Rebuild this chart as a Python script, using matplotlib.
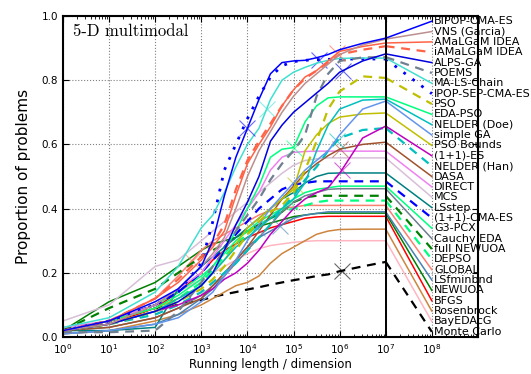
import numpy as np
import matplotlib
matplotlib.use("Agg")
import matplotlib.pyplot as plt
from matplotlib.ticker import LogLocator, NullFormatter

# log10 of running length / dimension at which every ECDF is sampled
log_evals = [0, 1, 2, 2.5, 3, 3.25, 3.5, 3.75, 4, 4.25, 4.5, 4.75, 5, 5.25, 5.5, 5.75, 6, 6.5, 7]

bipop_cma_es = [0.02, 0.05, 0.11, 0.15, 0.22, 0.30, 0.44, 0.56, 0.65, 0.74, 0.82, 0.855, 0.86, 0.862, 0.87, 0.88, 0.895, 0.915, 0.931]
vns_garcia = [0.02, 0.04, 0.10, 0.15, 0.22, 0.26, 0.31, 0.40, 0.50, 0.58, 0.64, 0.70, 0.75, 0.79, 0.82, 0.85, 0.88, 0.91, 0.928]
amalgam = [0.02, 0.05, 0.12, 0.17, 0.24, 0.28, 0.33, 0.44, 0.54, 0.60, 0.655, 0.72, 0.77, 0.81, 0.83, 0.86, 0.89, 0.905, 0.916]
iamalgam = [0.02, 0.05, 0.12, 0.18, 0.25, 0.29, 0.35, 0.46, 0.55, 0.61, 0.665, 0.72, 0.77, 0.805, 0.83, 0.855, 0.88, 0.895, 0.906]
alps_ga = [0.02, 0.04, 0.08, 0.11, 0.16, 0.20, 0.27, 0.35, 0.42, 0.50, 0.61, 0.66, 0.70, 0.73, 0.76, 0.79, 0.825, 0.86, 0.882]
poems = [0.015, 0.015, 0.02, 0.08, 0.17, 0.22, 0.27, 0.33, 0.38, 0.43, 0.49, 0.54, 0.58, 0.63, 0.75, 0.82, 0.86, 0.871, 0.872]
ma_ls_chain = [0.03, 0.06, 0.14, 0.22, 0.34, 0.38, 0.45, 0.53, 0.60, 0.65, 0.74, 0.80, 0.825, 0.84, 0.853, 0.862, 0.868, 0.869, 0.869]
ipop_sep = [0.02, 0.05, 0.10, 0.14, 0.23, 0.36, 0.52, 0.60, 0.68, 0.75, 0.81, 0.845, 0.858, 0.862, 0.864, 0.865, 0.866, 0.866, 0.866]
pso = [0.02, 0.04, 0.08, 0.11, 0.15, 0.18, 0.22, 0.27, 0.32, 0.36, 0.39, 0.41, 0.45, 0.52, 0.61, 0.71, 0.765, 0.812, 0.807]
eda_pso = [0.02, 0.05, 0.09, 0.13, 0.18, 0.22, 0.27, 0.33, 0.40, 0.47, 0.56, 0.585, 0.59, 0.67, 0.72, 0.745, 0.748, 0.748, 0.748]
nelder_doe = [0.02, 0.04, 0.08, 0.12, 0.16, 0.20, 0.24, 0.28, 0.31, 0.34, 0.37, 0.40, 0.43, 0.48, 0.58, 0.66, 0.71, 0.738, 0.741]
simple_ga = [0.01, 0.02, 0.04, 0.06, 0.11, 0.14, 0.19, 0.24, 0.30, 0.35, 0.40, 0.44, 0.48, 0.52, 0.55, 0.58, 0.63, 0.71, 0.735]
pso_bounds = [0.02, 0.05, 0.09, 0.12, 0.16, 0.20, 0.24, 0.29, 0.34, 0.37, 0.40, 0.43, 0.46, 0.58, 0.63, 0.665, 0.685, 0.695, 0.698]
one_one_es = [0.02, 0.04, 0.08, 0.10, 0.13, 0.15, 0.18, 0.20, 0.23, 0.27, 0.32, 0.36, 0.40, 0.43, 0.45, 0.465, 0.51, 0.62, 0.657]
nelder_han = [0.02, 0.04, 0.07, 0.10, 0.14, 0.17, 0.20, 0.23, 0.27, 0.31, 0.35, 0.40, 0.44, 0.49, 0.53, 0.58, 0.62, 0.645, 0.651]
dasa = [0.02, 0.03, 0.06, 0.09, 0.12, 0.16, 0.20, 0.24, 0.28, 0.33, 0.38, 0.43, 0.47, 0.51, 0.54, 0.565, 0.585, 0.60, 0.607]
direct = [0.03, 0.05, 0.10, 0.15, 0.20, 0.25, 0.30, 0.35, 0.40, 0.45, 0.52, 0.56, 0.575, 0.578, 0.579, 0.579, 0.579, 0.579, 0.579]
mcs = [0.05, 0.10, 0.22, 0.24, 0.30, 0.33, 0.36, 0.39, 0.42, 0.45, 0.48, 0.51, 0.535, 0.55, 0.555, 0.558, 0.558, 0.558, 0.558]
lsstep = [0.02, 0.02, 0.03, 0.15, 0.22, 0.25, 0.28, 0.31, 0.34, 0.37, 0.40, 0.43, 0.45, 0.48, 0.50, 0.51, 0.511, 0.511, 0.511]
one_one_cma = [0.02, 0.05, 0.10, 0.14, 0.20, 0.24, 0.28, 0.32, 0.36, 0.40, 0.43, 0.46, 0.475, 0.48, 0.485, 0.485, 0.485, 0.485, 0.485]
g3_pcx = [0.02, 0.05, 0.10, 0.14, 0.19, 0.22, 0.26, 0.30, 0.33, 0.36, 0.38, 0.40, 0.43, 0.45, 0.46, 0.465, 0.47, 0.47, 0.47]
cauchy_eda = [0.02, 0.03, 0.06, 0.09, 0.13, 0.16, 0.19, 0.23, 0.27, 0.31, 0.35, 0.39, 0.42, 0.44, 0.45, 0.46, 0.462, 0.462, 0.462]
full_newuoa = [0.02, 0.09, 0.15, 0.20, 0.25, 0.27, 0.29, 0.31, 0.33, 0.35, 0.37, 0.39, 0.42, 0.435, 0.44, 0.44, 0.44, 0.44, 0.44]
depso = [0.02, 0.04, 0.08, 0.12, 0.17, 0.21, 0.25, 0.29, 0.32, 0.35, 0.37, 0.39, 0.40, 0.41, 0.42, 0.425, 0.425, 0.425, 0.425]
global_ = [0.02, 0.05, 0.12, 0.19, 0.27, 0.30, 0.32, 0.34, 0.36, 0.38, 0.395, 0.40, 0.405, 0.41, 0.41, 0.41, 0.41, 0.41, 0.41]
lsfminbnd = [0.01, 0.02, 0.04, 0.07, 0.12, 0.15, 0.19, 0.24, 0.28, 0.31, 0.33, 0.35, 0.37, 0.38, 0.385, 0.39, 0.39, 0.39, 0.39]
newuoa = [0.02, 0.11, 0.17, 0.22, 0.27, 0.29, 0.30, 0.31, 0.33, 0.345, 0.355, 0.365, 0.375, 0.38, 0.385, 0.386, 0.386, 0.386, 0.386]
bfgs = [0.02, 0.04, 0.09, 0.14, 0.20, 0.24, 0.27, 0.29, 0.31, 0.325, 0.34, 0.35, 0.36, 0.37, 0.374, 0.376, 0.376, 0.376, 0.376]
rosenbrock = [0.01, 0.02, 0.05, 0.07, 0.10, 0.12, 0.14, 0.16, 0.17, 0.19, 0.23, 0.26, 0.28, 0.30, 0.32, 0.33, 0.335, 0.336, 0.336]
bayedacg = [0.02, 0.05, 0.10, 0.14, 0.18, 0.20, 0.22, 0.24, 0.26, 0.275, 0.285, 0.29, 0.295, 0.298, 0.30, 0.30, 0.30, 0.30, 0.30]
monte_carlo = [0.02, 0.05, 0.09, 0.10, 0.115, 0.125, 0.133, 0.14, 0.148, 0.155, 0.163, 0.17, 0.177, 0.183, 0.19, 0.195, 0.205, 0.22, 0.234]

algorithms = ["BIPOP-CMA-ES", "VNS (Garcia)", "AMaLGaM IDEA", "iAMaLGaM IDEA", "ALPS-GA",
              "POEMS", "MA-LS-Chain", "IPOP-SEP-CMA-ES", "PSO", "EDA-PSO", "NELDER (Doe)",
              "simple GA", "PSO Bounds", "(1+1)-ES", "NELDER (Han)", "DASA", "DIRECT", "MCS",
              "LSstep", "(1+1)-CMA-ES", "G3-PCX", "Cauchy EDA", "full NEWUOA", "DEPSO",
              "GLOBAL", "LSfminbnd", "NEWUOA", "BFGS", "Rosenbrock", "BayEDAcG", "Monte Carlo"]
proportions = [bipop_cma_es, vns_garcia, amalgam, iamalgam, alps_ga, poems, ma_ls_chain, ipop_sep,
               pso, eda_pso, nelder_doe, simple_ga, pso_bounds, one_one_es, nelder_han, dasa,
               direct, mcs, lsstep, one_one_cma, g3_pcx, cauchy_eda, full_newuoa, depso, global_,
               lsfminbnd, newuoa, bfgs, rosenbrock, bayedacg, monte_carlo]
# log10 of median of maximal run lengths (None: marker not shown)
median_maxevals = [4.0, None, 5.95, None, 6.07, None, 4.42, 5.55, None, 5.0, None, 4.2,
                   5.03, 6.05, 5.95, 6.0, None, None, None, None, 4.92, None, None, None, 2.8,
                   4.7, None, None, None, None, 6.05]

colors = ["#0000ff", "#bc8f8f", "#ff6347", "#ff6347", "#0000e0", "#708090", "#40e0d0", "#0000ff",
          "#bfbf00", "#00ff7f", "#00bfbf", "#6495ed", "#bfbf00", "#bf00bf", "#00bfbf", "#a0522d",
          "#ee82ee", "#d8bfd8", "#008080", "#0000ff", "#00ff7f", "#708090", "#008000", "#00ff7f",
          "#fa8072", "#4682b4", "#008000", "#ff0000", "#cd853f", "#ffb6c1", "#000000"]
styles = ["-", "-", "-", "--", "-", "--", "-", ":", "--", "-", "-", "-", "-", "-", "--", "-",
          "-", "-", "-", "--", "-", "-", "--", "--", "-", "-", "-", "-", "-", "-", "--"]

fig = plt.figure(figsize=(5.31, 3.74), dpi=100)
ax = fig.add_axes([0.1186, 0.0989, 0.7815, 0.8583])

x = 10.0 ** np.array(log_evals)
n = len(algorithms)
finals = np.array([p[-1] for p in proportions])
order = np.argsort(-finals, kind="stable")
label_y = np.empty(n)
label_y[order] = (n - np.arange(n) - 0.5) / n

for i in range(n - 1, -1, -1):
    ls = styles[i]
    lw = 1.1 if ls == "-" else 1.6
    kw = dict(color=colors[i], linewidth=lw)
    if ls == "--":
        kw["dashes"] = (4, 3)
    elif ls == ":":
        kw["dashes"] = (1, 3)
        kw["linewidth"] = 2.0
    ax.plot(x, proportions[i], **kw)
    # connect final value to its label
    ax.plot([1e7, 1e8], [proportions[i][-1], label_y[i]], **kw)
    if median_maxevals[i] is not None:
        ym = np.interp(median_maxevals[i], log_evals, proportions[i])
        ax.plot(10 ** median_maxevals[i], ym, marker="x", markersize=11,
                markeredgewidth=0.8, color=colors[i], alpha=0.6, linestyle="none")
    ax.text(1.12e8, label_y[i], algorithms[i], fontsize=8, va="center", ha="left",
            clip_on=False)

ax.axvline(1e7, color="black", linewidth=1.4)

ax.set_xscale("log")
ax.set_xlim(1, 1e9)
ax.set_ylim(0, 1)
ax.set_xticks([10.0 ** k for k in range(9)])
ax.xaxis.set_minor_locator(LogLocator(base=10, subs=np.arange(2, 10), numticks=20))
ax.xaxis.set_minor_formatter(NullFormatter())
ax.set_yticks([0, 0.2, 0.4, 0.6, 0.8, 1.0])
ax.set_yticklabels(["0.0", "0.2", "0.4", "0.6", "0.8", "1.0"])
ax.tick_params(which="both", direction="in", top=True, right=True, labelsize=7.5)
ax.tick_params(which="major", length=4)
ax.tick_params(which="minor", length=2)
ax.grid(True, which="major", linestyle=":", color="#808080", linewidth=0.8)

for sp in ax.spines.values():
    sp.set_linewidth(1.5)

ax.set_xlabel("Running length / dimension", fontsize=8.5, labelpad=2)
ax.set_ylabel("Proportion of problems", fontsize=11, labelpad=8)
ax.text(0.024, 0.975, "5-D multimodal", transform=ax.transAxes, family="cmr10",
        fontsize=12, va="top", ha="left")

fig.savefig("out.png", dpi=100)
